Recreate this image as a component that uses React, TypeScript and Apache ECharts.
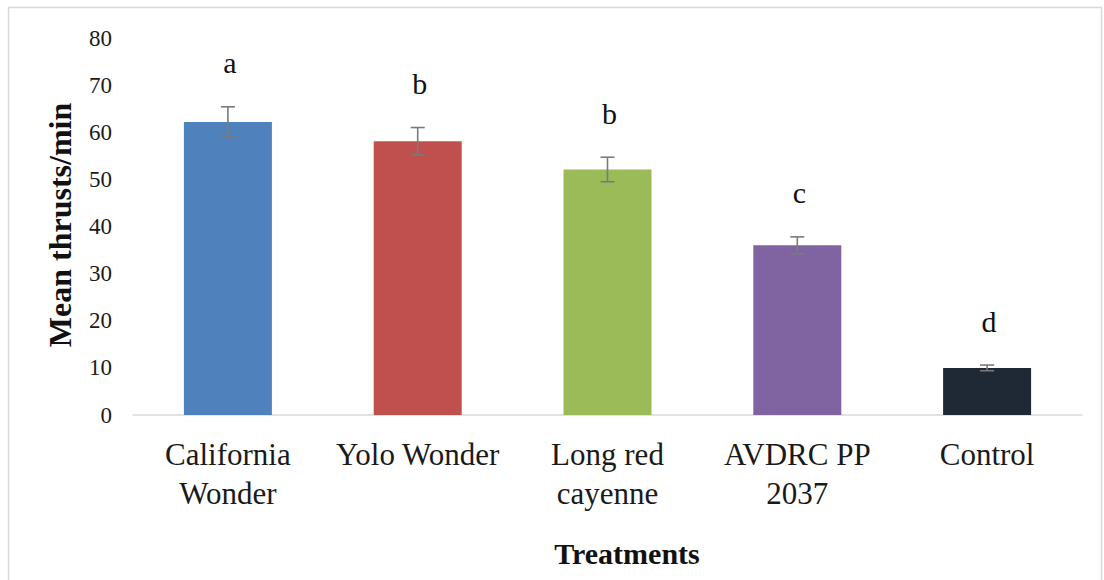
import React, { useEffect, useRef } from "react";
import * as echarts from "echarts";

const categories = ["California\nWonder", "Yolo Wonder", "Long red\ncayenne", "AVDRC PP\n2037", "Control"];
const means = [62.2, 58.1, 52.1, 36.0, 10.0];
const errors = [3.2, 2.9, 2.6, 1.8, 0.6];
const letters = ["a", "b", "b", "c", "d"];
const barColors = ["#4f81bd", "#c0504d", "#9bbb59", "#8064a2", "#1f2835"];
const yTicks = { min: 0, max: 80, interval: 10 };

const FONT = "Liberation Serif";

export default function App() {
  const ref = useRef<HTMLDivElement>(null);
  useEffect(() => {
    if (!ref.current) return;
    const chart = echarts.init(ref.current, undefined, { renderer: "svg" });
    const errData = means.map((m, i) => [i, m - errors[i], m + errors[i]]);
    chart.setOption({
      animation: false,
      backgroundColor: "#ffffff",
      textStyle: { fontFamily: FONT },
      grid: { left: 133, right: 22, top: 38, bottom: 165 },
      xAxis: {
        type: "category",
        data: categories,
        axisLine: { show: true, lineStyle: { color: "#d9d9d9", width: 1.5 } },
        axisTick: { show: false },
        axisLabel: {
          fontFamily: FONT,
          fontSize: 31,
          lineHeight: 39,
          color: "#1a1a1a",
          margin: 20,
          interval: 0,
        },
      },
      yAxis: {
        type: "value",
        min: yTicks.min,
        max: yTicks.max,
        interval: yTicks.interval,
        splitLine: { show: false },
        axisLine: { show: false },
        axisTick: { show: false },
        axisLabel: { fontFamily: FONT, fontSize: 23, color: "#1a1a1a", margin: 21 },
      },
      series: [
        {
          type: "bar",
          barWidth: 88,
          data: means.map((v, i) => ({ value: v, itemStyle: { color: barColors[i] } })),
        },
        {
          type: "custom",
          data: errData,
          z: 10,
          renderItem: (params: any, api: any) => {
            const x = api.value(0);
            const lo = api.coord([x, api.value(1)]);
            const hi = api.coord([x, api.value(2)]);
            const cap = 7;
            const st = { stroke: "#7a7a7a", lineWidth: 1.6 };
            return {
              type: "group",
              children: [
                { type: "line", shape: { x1: hi[0], y1: hi[1], x2: lo[0], y2: lo[1] }, style: st },
                { type: "line", shape: { x1: hi[0] - cap, y1: hi[1], x2: hi[0] + cap, y2: hi[1] }, style: st },
                { type: "line", shape: { x1: lo[0] - cap, y1: lo[1], x2: lo[0] + cap, y2: lo[1] }, style: st },
                {
                  type: "text",
                  x: hi[0] + 2,
                  y: hi[1] - 29,
                  style: {
                    text: letters[params.dataIndex],
                    fontFamily: FONT,
                    fontSize: 30,
                    fill: "#111",
                    align: "center",
                    verticalAlign: "bottom",
                  },
                },
              ],
            };
          },
        },
      ],
      graphic: [
        {
          type: "rect",
          shape: { x: 8.5, y: 7.5, width: 1093, height: 590 },
          style: { fill: "none", stroke: "#d9d9d9", lineWidth: 1.5 },
          silent: true,
        },
        {
          type: "text",
          x: 60,
          y: 225,
          rotation: Math.PI / 2,
          style: {
            text: "Mean thrusts/min",
            fontFamily: FONT,
            fontWeight: "bold",
            fontSize: 32,
            fill: "#111",
            align: "center",
            verticalAlign: "middle",
          },
        },
        {
          type: "text",
          x: 627,
          y: 553,
          style: {
            text: "Treatments",
            fontFamily: FONT,
            fontWeight: "bold",
            fontSize: 30,
            fill: "#111",
            align: "center",
            verticalAlign: "middle",
          },
        },
      ],
    });
    return () => chart.dispose();
  }, []);
  return (
    <div
      ref={ref}
      style={{ position: "fixed", left: 0, top: 0, width: 1104, height: 580, background: "#fff" }}
    />
  );
}
